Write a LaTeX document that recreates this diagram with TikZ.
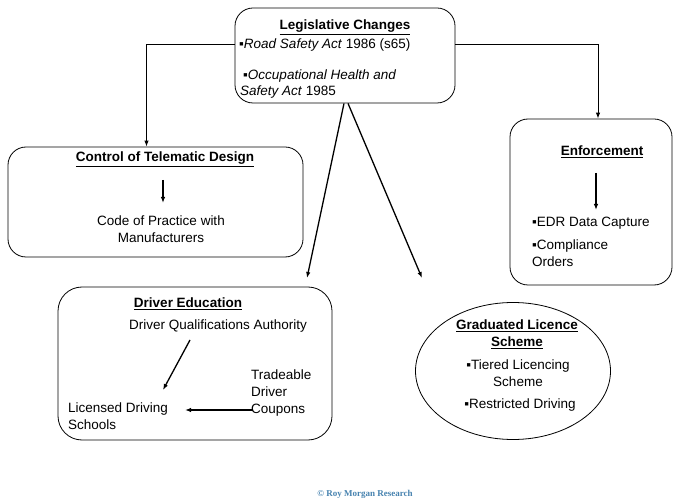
\documentclass[tikz,border=0pt]{standalone}
\usepackage{fontspec}
\setmainfont{Liberation Sans}
\newfontfamily\crfont{Liberation Serif}
\usetikzlibrary{arrows.meta,shapes.geometric}
\definecolor{crblue}{RGB}{70,130,175}
\begin{document}
\begin{tikzpicture}[x=1pt,y=-1pt,
  box/.style={draw,rounded corners=18pt,line width=0.8pt},
  txt/.style={inner sep=0pt,font=\fontsize{13.5}{17}\selectfont},
  ttl/.style={inner sep=0pt,font=\fontsize{13.5}{17}\selectfont\bfseries},
  arr/.style={-{Latex[length=6pt,width=4.5pt]},line width=1.3pt},
  conn/.style={-{Latex[length=6pt,width=4.5pt]},line width=1pt}]
\useasboundingbox (0,0) rectangle (674,502);

% Legislative Changes
\node[box,minimum width=220pt,minimum height=95pt] (leg) at (345,55.5) {};
\node[ttl] (legt) at (345,27) {\underline{Legislative Changes}};
\node[txt,anchor=west] (leg1) at (239,45) {▪\textit{Road Safety Act} 1986 (s65)};
\node[txt,anchor=west] (leg2) at (243,76) {▪\textit{Occupational Health and}};
\node[txt,anchor=west] (leg3) at (240,92) {\textit{Safety Act} 1985};

% Control of Telematic Design
\node[box,minimum width=295pt,minimum height=110pt] (ctl) at (155.5,202) {};
\node[ttl] (ctlt) at (165,159) {\underline{Control of Telematic Design}};
\node[txt,align=center] (code) at (161,229.5) {Code of Practice with\\Manufacturers};
\coordinate (c1) at (163,180);
\coordinate (c2) at (163,203);
\draw[arr] (c1) -- (c2);

% Enforcement
\node[box,minimum width=162pt,minimum height=166pt] (enf) at (591,202) {};
\node[ttl] (enft) at (602,152) {\underline{Enforcement}};
\coordinate (e1) at (596,173);
\coordinate (e2) at (596,210);
\draw[arr] (e1) -- (e2);
\node[txt,anchor=west] (edr) at (532,223) {▪EDR Data Capture};
\node[txt,anchor=north west,align=left] (comp) at (532,240) {▪Compliance\\Orders};

% Graduated Licence Scheme
\node[draw,ellipse,line width=0.8pt,minimum width=195pt,minimum height=137pt] (gls) at (513,371) {};
\node[ttl,align=center] (glst) at (517,334.5) {\underline{Graduated Licence}\\\underline{Scheme}};
\node[txt,align=center] (tier) at (518,373.5) {▪Tiered Licencing\\Scheme};
\node[txt] (restr) at (520,405) {▪Restricted Driving};

% Driver Education
\node[box,rounded corners=24pt,minimum width=274pt,minimum height=153pt] (ded) at (195,363.5) {};
\node[ttl] (dedt) at (188,304) {\underline{Driver Education}};
\node[txt] (dqa) at (218,326) {Driver Qualifications Authority};
\node[txt,anchor=west,align=left] (tdc) at (251,393) {Tradeable\\Driver\\Coupons};
\node[txt,anchor=west,align=left] (lds) at (68,416.5) {Licensed Driving\\Schools};
\coordinate (d1) at (190,340);
\coordinate (d2) at (163,390);
\draw[arr] (d1) -- (d2);
\coordinate (t1) at (253,410);
\coordinate (t2) at (185,410);
\draw[arr] (t1) -- (t2);

% Connectors from Legislative Changes
\draw[conn] (leg.west |- leg1.west) -| ([xshift=-9pt]ctl.north);
\draw[conn] (leg.east |- leg1.west) -| ([xshift=7pt]enf.north);
\coordinate (a1) at (307,278);
\coordinate (a2) at (422,278);
\draw[arr] ([xshift=-1pt]leg.south) -- (a1);
\draw[arr] ([xshift=3pt]leg.south) -- (a2);

% copyright
\node[inner sep=0pt,font=\crfont\fontsize{9}{10}\selectfont\bfseries,text=crblue] (copy) at (365,494) {© Roy Morgan Research};
\end{tikzpicture}
\end{document}
